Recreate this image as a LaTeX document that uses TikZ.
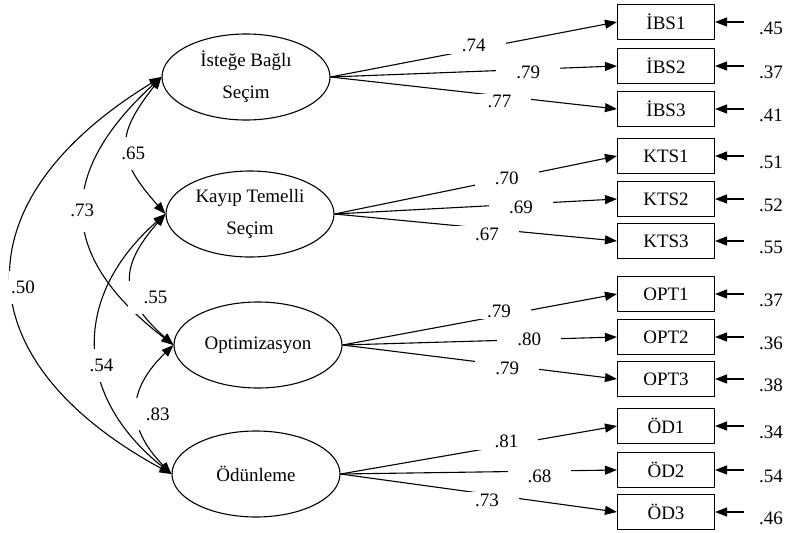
\documentclass[tikz,border=0pt]{standalone}
\usepackage{fontspec}
\setmainfont{Liberation Serif}
\usetikzlibrary{arrows.meta, shapes.geometric}

\begin{document}
\begin{tikzpicture}[x=1pt, y=-1pt, line width=1.1pt,
    every node/.style={font=\fontsize{19}{32}\selectfont},
    latent/.style={ellipse, draw, inner sep=0pt, minimum width=168pt, minimum height=86pt, align=center},
    obs/.style={draw, inner sep=0pt, minimum width=97pt, minimum height=35pt},
    load/.style={-{Triangle[length=12pt, width=9pt]}},
    cov/.style={{Triangle[length=12pt, width=9pt]}-{Triangle[length=12pt, width=9pt]}},
    est/.style={fill=white, inner xsep=20pt, inner ysep=2pt},
    covest/.style={fill=white, inner xsep=2pt, inner ysep=10pt}]
    \useasboundingbox (0,0) rectangle (788,533);

    % Factors
    \node[latent] (ibs) at (246,77) {İsteğe Bağlı\\Seçim};
    \node[latent] (kts) at (250,214) {Kayıp Temelli\\Seçim};
    \node[latent] (opt) at (258,345) {Optimizasyon};
    \node[latent] (od) at (256,474) {Ödünleme};

    % Indicators
    \node[obs] (ibs1) at (666,22) {İBS1};
    \node[obs] (ibs2) at (666,66) {İBS2};
    \node[obs] (ibs3) at (666,109) {İBS3};
    \node[obs] (kts1) at (666,156) {KTS1};
    \node[obs] (kts2) at (666,199) {KTS2};
    \node[obs] (kts3) at (666,241) {KTS3};
    \node[obs] (opt1) at (666,294) {OPT1};
    \node[obs] (opt2) at (666,337) {OPT2};
    \node[obs] (opt3) at (666,379) {OPT3};
    \node[obs] (od1) at (666,426) {ÖD1};
    \node[obs] (od2) at (666,470) {ÖD2};
    \node[obs] (od3) at (666,512) {ÖD3};

    % Loadings
    \draw[load] (ibs.east) -- node[est, pos=.50, yshift=4pt] {.74} (ibs1.west);
    \draw[load] (ibs.east) -- node[est, pos=.69, yshift=-3pt] {.79} (ibs2.west);
    \draw[load] (ibs.east) -- node[est, pos=.59, yshift=-6pt] {.77} (ibs3.west);
    \draw[load] (kts.east) -- node[est, pos=.61] {.70} (kts1.west);
    \draw[load] (kts.east) -- node[est, pos=.66, yshift=-3pt] {.69} (kts2.west);
    \draw[load] (kts.east) -- node[est, pos=.54, yshift=-6pt] {.67} (kts3.west);
    \draw[load] (opt.east) -- node[est, pos=.57, yshift=5pt] {.79} (opt1.west);
    \draw[load] (opt.east) -- node[est, pos=.68] {.80} (opt2.west);
    \draw[load] (opt.east) -- node[est, pos=.60, yshift=-3pt] {.79} (opt3.west);
    \draw[load] (od.east) -- node[est, pos=.60, yshift=4pt] {.81} (od1.west);
    \draw[load] (od.east) -- node[est, pos=.72, yshift=-5pt] {.68} (od2.west);
    \draw[load] (od.east) -- node[est, pos=.53, yshift=-6pt] {.73} (od3.west);

    % Error terms
    \foreach \n/\v in {ibs1/.45, ibs2/.37, ibs3/.41, kts1/.51, kts2/.52, kts3/.55,
                       opt1/.37, opt2/.36, opt3/.38, od1/.34, od2/.54, od3/.46}
    {
        \coordinate (e\n) at ([xshift=29pt]\n.east);
        \node (r\n) at ([xshift=56pt, yshift=-6pt]\n.east) {\v};
        \draw[load] (e\n) -- (\n.east);
    }

    % Correlations
    \draw[cov] (ibs.west) to[bend right=40, looseness=1.4] node[covest, xshift=6pt, yshift=-7pt] {.65} (kts.west);
    \draw[cov] (ibs.west) to[bend right=50, looseness=1.38] node[covest, inner ysep=15pt, xshift=-2pt, yshift=4pt] {.73} (opt.west);
    \draw[cov] (ibs.west) to[bend right=60, looseness=1.53] node[covest, xshift=11pt, yshift=-8pt] {.50} (od.west);
    \draw[cov] (kts.west) to[bend right=45, looseness=1.4] node[covest, inner xsep=16pt, xshift=24pt, yshift=-16pt] {.55} (opt.west);
    \draw[cov] (kts.west) to[bend right=50, looseness=1.23] node[covest, xshift=5pt, yshift=-20pt] {.54} (od.west);
    \draw[cov] (opt.west) to[bend right=45, looseness=1.3] node[covest, inner xsep=12pt, xshift=20pt, yshift=-5pt] {.83} (od.west);
\end{tikzpicture}
\end{document}
